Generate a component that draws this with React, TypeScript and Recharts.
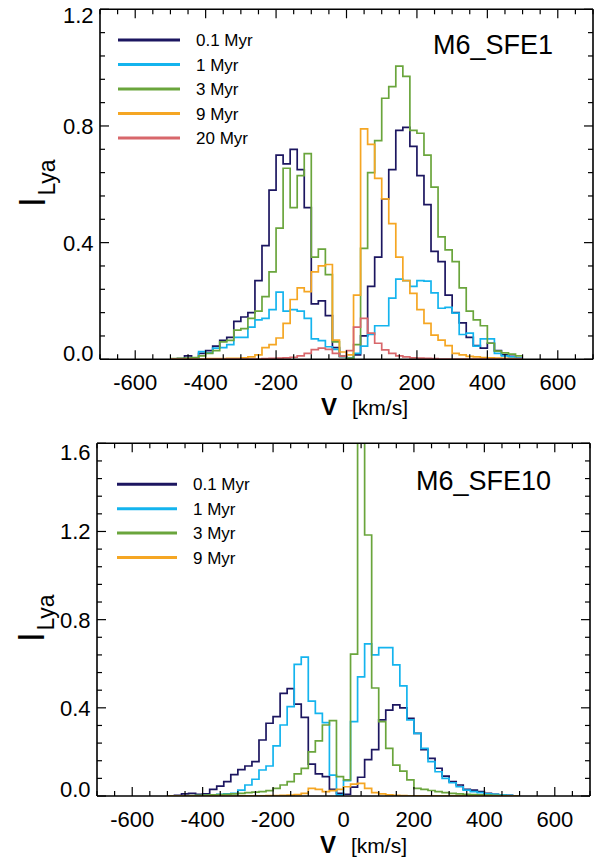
import React from 'react';
import { LineChart, Line, XAxis, YAxis } from 'recharts';

// ---------- data ----------
const binEdges = [
  -500, -480, -460, -440, -420, -400, -380, -360, -340, -320, -300, -280, -260, -240, -220, -200, -180, -160, -140, -120,
  -100, -80, -60, -40, -20, 0, 20, 40, 60, 80, 100, 120, 140, 160, 180, 200, 220, 240, 260, 280, 300, 320, 340, 360, 380,
  400, 420, 440, 460, 480, 500,
];

// Top panel: M6_SFE1
const topNavy = [
  0, 0.002, 0.012, 0.005, 0.02, 0.03, 0.045, 0.065, 0.075, 0.13, 0.145, 0.16, 0.27, 0.39, 0.58, 0.7, 0.67, 0.72, 0.65, 0.52,
  0.19, 0.2, 0.15, 0.04, 0.01, 0.003, 0.015, 0.08, 0.25, 0.35, 0.55, 0.65, 0.785, 0.795, 0.73, 0.63, 0.53, 0.37, 0.335, 0.22,
  0.16, 0.125, 0.075, 0.047, 0.038, 0.055, 0.03, 0.015, 0.01, 0.003,
];
const topBlue = [
  0, 0, 0.002, 0.003, 0.026, 0.022, 0.038, 0.04, 0.05, 0.075, 0.075, 0.11, 0.135, 0.14, 0.17, 0.23, 0.165, 0.17, 0.165, 0.14,
  0.07, 0.064, 0.043, 0.034, 0.01, 0.003, 0.02, 0.045, 0.085, 0.115, 0.115, 0.21, 0.275, 0.27, 0.25, 0.27, 0.268, 0.228,
  0.175, 0.178, 0.158, 0.085, 0.09, 0.045, 0.07, 0.07, 0.02, 0.012, 0.008, 0.003,
];
const topGreen = [
  0.002, 0.003, 0.004, 0.006, 0.012, 0.02, 0.03, 0.06, 0.065, 0.1, 0.105, 0.14, 0.165, 0.215, 0.3, 0.45, 0.655, 0.52, 0.63,
  0.705, 0.35, 0.378, 0.29, 0.06, 0.01, 0.003, 0.05, 0.38, 0.64, 0.75, 0.895, 0.935, 1.005, 0.97, 0.785, 0.775, 0.7, 0.59,
  0.42, 0.375, 0.335, 0.245, 0.165, 0.135, 0.115, 0.055, 0.028, 0.022, 0.018, 0.012,
];
const topOrange = [
  0, 0, 0.001, 0.001, 0.001, 0.002, 0.002, 0.002, 0.003, 0.003, 0.005, 0.008, 0.015, 0.04, 0.05, 0.073, 0.123, 0.205, 0.245,
  0.232, 0.3, 0.32, 0.325, 0.066, 0.025, 0.015, 0.22, 0.79, 0.737, 0.62, 0.55, 0.465, 0.35, 0.27, 0.226, 0.17, 0.123, 0.083,
  0.066, 0.047, 0.02, 0.015, 0.01, 0.008, 0.006, 0.005, 0.004, 0.003, 0.002, 0.001,
];
const topPink = [
  0, 0, 0, 0, 0, 0, 0.001, 0.001, 0.001, 0.001, 0.001, 0.001, 0.001, 0.002, 0.003, 0.004, 0.005, 0.007, 0.012, 0.02, 0.033,
  0.038, 0.034, 0.02, 0.011, 0.03, 0.11, 0.14, 0.09, 0.055, 0.032, 0.02, 0.012, 0.008, 0.005, 0.004, 0.003, 0.002, 0.001,
  0.001, 0.001, 0.001, 0.001, 0.001, 0.001, 0.001, 0.001, 0.001, 0.001, 0.001,
];

// Bottom panel: M6_SFE10
const botNavy = [
  0, 0.003, 0.01, 0.012, 0.008, 0.01, 0.03, 0.045, 0.065, 0.097, 0.12, 0.136, 0.156, 0.254, 0.33, 0.36, 0.466, 0.487, 0.417,
  0.357, 0.145, 0.1, 0.088, 0.03, 0.012, 0.008, 0.04, 0.085, 0.165, 0.21, 0.345, 0.39, 0.413, 0.4, 0.352, 0.284, 0.21, 0.171,
  0.126, 0.09, 0.065, 0.05, 0.03, 0.027, 0.02, 0.012, 0.008, 0.005, 0.003, 0,
];
const botBlue = [
  0, 0, 0, 0.001, 0.002, 0.003, 0.005, 0.008, 0.01, 0.012, 0.027, 0.05, 0.076, 0.118, 0.136, 0.227, 0.322, 0.405, 0.597, 0.63,
  0.43, 0.375, 0.333, 0.095, 0.005, 0.07, 0.337, 0.54, 0.69, 0.64, 0.673, 0.673, 0.595, 0.5, 0.345, 0.284, 0.216, 0.156, 0.11,
  0.08, 0.06, 0.042, 0.027, 0.02, 0.015, 0.01, 0.007, 0.005, 0.003, 0,
];
const botGreen = [
  0, 0.001, 0.001, 0.002, 0.003, 0.004, 0.005, 0.006, 0.008, 0.01, 0.012, 0.015, 0.018, 0.02, 0.024, 0.035, 0.05, 0.065, 0.1,
  0.125, 0.2, 0.25, 0.322, 0.342, 0.088, 0.073, 0.644, 1.9, 1.184, 0.49, 0.337, 0.216, 0.14, 0.113, 0.073, 0.035, 0.03, 0.025,
  0.02, 0.015, 0.012, 0.01, 0.008, 0.006, 0.005, 0.004, 0.003, 0.002, 0.001, 0,
];
const botOrange = [
  0, 0, 0, 0, 0, 0, 0, 0, 0, 0, 0.001, 0.001, 0.001, 0.001, 0.002, 0.002, 0.003, 0.004, 0.006, 0.012, 0.035, 0.03, 0.02, 0.024,
  0.03, 0.042, 0.054, 0.057, 0.035, 0.015, 0.01, 0.005, 0.003, 0.002, 0.001, 0.001, 0.001, 0.001, 0.001, 0.001, 0.001, 0.001,
  0.001, 0.001, 0.001, 0.001, 0.001, 0.001, 0.001, 0,
];

const topNames = ['0.1 Myr', '1 Myr', '3 Myr', '9 Myr', '20 Myr'];
const topColors = ['#1c1660', '#14b4ee', '#6aa53c', '#f5a623', '#d8676b'];
const topSeries = [topNavy, topBlue, topGreen, topOrange, topPink];

const botNames = ['0.1 Myr', '1 Myr', '3 Myr', '9 Myr'];
const botColors = ['#1c1660', '#14b4ee', '#6aa53c', '#f5a623'];
const botSeries = [botNavy, botBlue, botGreen, botOrange];

const xTicks = [
  -700, -650, -600, -550, -500, -450, -400, -350, -300, -250, -200, -150, -100, -50, 0, 50, 100, 150, 200, 250, 300, 350, 400,
  450, 500, 550, 600, 650, 700,
];
const xMajor = [-600, -400, -200, 0, 200, 400, 600];
const yTicksTop = [0, 0.08, 0.16, 0.24, 0.32, 0.4, 0.48, 0.56, 0.64, 0.72, 0.8, 0.88, 0.96, 1.04, 1.12, 1.2];
const yMajorTop = [0, 0.4, 0.8, 1.2];
const yTicksBot = [
  0, 0.08, 0.16, 0.24, 0.32, 0.4, 0.48, 0.56, 0.64, 0.72, 0.8, 0.88, 0.96, 1.04, 1.12, 1.2, 1.28, 1.36, 1.44, 1.52, 1.6,
];
const yMajorBot = [0, 0.4, 0.8, 1.2, 1.6];

// ---------- helpers ----------
const FONT = '"Liberation Sans", Arial, Helvetica, sans-serif';
const MAJ = 9;
const MIN = 5;
const TICK_W = 1.2;

function buildRows(series: number[][]) {
  return binEdges.map((v, i) => {
    const row: Record<string, number> = { v };
    series.forEach((s, k) => {
      row['s' + k] = s[Math.min(i, s.length - 1)];
    });
    return row;
  });
}

const isMajor = (v: number, majors: number[]) => majors.some((m) => Math.abs(m - v) < 1e-6);

const makeBottomTick = (majors: number[]) => (p: any) => {
  const major = isMajor(p.payload.value, majors);
  const len = major ? MAJ : MIN;
  return (
    <g>
      <line x1={p.x} x2={p.x} y1={p.y} y2={p.y - len} stroke="#000" strokeWidth={TICK_W} />
      {major && (
        <text x={p.x} y={p.y + 30.5} textAnchor="middle" fontSize={22} fontFamily={FONT} fill="#000">
          {String(p.payload.value)}
        </text>
      )}
    </g>
  );
};

const makeTopTick = (majors: number[]) => (p: any) => {
  const major = isMajor(p.payload.value, majors);
  const len = major ? MAJ : MIN;
  return <line x1={p.x} x2={p.x} y1={p.y} y2={p.y + len} stroke="#000" strokeWidth={TICK_W} />;
};

const makeLeftTick = (majors: number[], maxVal: number, topShift: number) => (p: any) => {
  const v = p.payload.value;
  const major = isMajor(v, majors);
  const len = major ? MAJ : MIN;
  let dy = 0;
  if (Math.abs(v) < 1e-6) dy = -6.6;
  if (Math.abs(v - maxVal) < 1e-6) dy = topShift;
  return (
    <g>
      <line x1={p.x} x2={p.x + len} y1={p.y} y2={p.y} stroke="#000" strokeWidth={TICK_W} />
      {major && (
        <text x={p.x - 6.5} y={p.y + 7.9 + dy} textAnchor="end" fontSize={22} fontFamily={FONT} fill="#000">
          {v.toFixed(1)}
        </text>
      )}
    </g>
  );
};

const makeRightTick = (majors: number[]) => (p: any) => {
  const major = isMajor(p.payload.value, majors);
  const len = major ? MAJ : MIN;
  return <line x1={p.x} x2={p.x - len} y1={p.y} y2={p.y} stroke="#000" strokeWidth={TICK_W} />;
};

type PanelProps = {
  series: number[][];
  colors: string[];
  yMax: number;
  yTicks: number[];
  yMajor: number[];
  margin: { top: number; right: number; bottom: number; left: number };
  topShift: number;
};

const frame = { stroke: '#000', strokeWidth: 1.6 };

function Panel({ series, colors, yMax, yTicks, yMajor, margin, topShift }: PanelProps) {
  const rows = buildRows(series);
  return (
    <LineChart width={606} height={430} data={rows} margin={margin}>
      <XAxis
        dataKey="v"
        type="number"
        domain={[-700, 700]}
        allowDataOverflow
        ticks={xTicks}
        interval={0}
        height={1}
        tickSize={0}
        tickMargin={0}
        tickLine={false}
        axisLine={frame}
        tick={makeBottomTick(xMajor)}
      />
      <XAxis
        xAxisId="top"
        orientation="top"
        dataKey="v"
        type="number"
        domain={[-700, 700]}
        allowDataOverflow
        ticks={xTicks}
        interval={0}
        height={1}
        tickSize={0}
        tickMargin={0}
        tickLine={false}
        axisLine={frame}
        tick={makeTopTick(xMajor)}
      />
      <YAxis
        type="number"
        domain={[0, yMax]}
        allowDataOverflow
        ticks={yTicks}
        interval={0}
        width={1}
        tickSize={0}
        tickMargin={0}
        tickLine={false}
        axisLine={frame}
        tick={makeLeftTick(yMajor, yMax, topShift)}
      />
      <YAxis
        yAxisId="right"
        orientation="right"
        type="number"
        domain={[0, yMax]}
        allowDataOverflow
        ticks={yTicks}
        interval={0}
        width={1}
        tickSize={0}
        tickMargin={0}
        tickLine={false}
        axisLine={frame}
        tick={makeRightTick(yMajor)}
      />
      <Line
        xAxisId="top"
        yAxisId="right"
        dataKey="s0"
        stroke="none"
        dot={false}
        activeDot={false}
        isAnimationActive={false}
      />
      {series.map((_, k) => (
        <Line
          key={k}
          type="stepAfter"
          dataKey={'s' + k}
          stroke={colors[k]}
          strokeWidth={1.7}
          dot={false}
          activeDot={false}
          isAnimationActive={false}
        />
      ))}
    </LineChart>
  );
}

function LegendBlock({ names, colors, x1, x2, tx, y0, dy }: any) {
  return (
    <g>
      {names.map((n: string, i: number) => (
        <g key={n}>
          <line x1={x1} x2={x2} y1={y0 + i * dy} y2={y0 + i * dy} stroke={colors[i]} strokeWidth={3} />
          <text x={tx} y={y0 + i * dy + 6} fontSize={17} fontFamily={FONT} fill="#000">
            {n}
          </text>
        </g>
      ))}
    </g>
  );
}

function YTitle({ x, y }: { x: number; y: number }) {
  return (
    <g>
      <text transform={`translate(${x},${y}) rotate(-90)`} textAnchor="middle" fontSize={37} fontFamily={FONT} fill="#000">
        I
      </text>
      <text
        transform={`translate(${x + 10},${y - 24.5}) rotate(-90)`}
        textAnchor="middle"
        fontSize={23}
        fontFamily={FONT}
        fill="#000"
      >
        Lya
      </text>
    </g>
  );
}

function XTitle({ x, y }: { x: number; y: number }) {
  return (
    <text x={x} y={y} fontFamily={FONT} fill="#000">
      <tspan fontSize={24} fontWeight="bold">
        V
      </tspan>
      <tspan fontSize={21} dx={15}>
        [km/s]
      </tspan>
    </text>
  );
}

export default function App() {
  return (
    <div style={{ position: 'absolute', left: 0, top: 0, width: 606, height: 860, background: '#fff' }}>
      <div style={{ position: 'absolute', left: 0, top: 0 }}>
        <Panel
          series={topSeries}
          colors={topColors}
          yMax={1.2}
          yTicks={yTicksTop}
          yMajor={yMajorTop}
          margin={{ top: 8.3, right: 12, bottom: 69.7, left: 99 }}
          topShift={5.7}
        />
      </div>
      <div style={{ position: 'absolute', left: 0, top: 430 }}>
        <Panel
          series={botSeries}
          colors={botColors}
          yMax={1.6}
          yTicks={yTicksBot}
          yMajor={yMajorBot}
          margin={{ top: 12.3, right: 15, bottom: 63, left: 96 }}
          topShift={8.4}
        />
      </div>
      <svg
        width={606}
        height={860}
        style={{ position: 'absolute', left: 0, top: 0, pointerEvents: 'none' }}
      >
        <LegendBlock names={topNames} colors={topColors} x1={118} x2={180} tx={196} y0={40} dy={24.5} />
        <LegendBlock names={botNames} colors={botColors} x1={117} x2={177} tx={193} y0={484.3} dy={24.4} />
        <text x={553} y={53.7} textAnchor="end" fontSize={27} fontFamily={FONT} fill="#000">
          M6_SFE1
        </text>
        <text x={416} y={489.7} fontSize={27} fontFamily={FONT} fill="#000">
          M6_SFE10
        </text>
        <YTitle x={45} y={202} />
        <YTitle x={44} y={637} />
        <XTitle x={321} y={415} />
        <XTitle x={320} y={853} />
      </svg>
    </div>
  );
}
